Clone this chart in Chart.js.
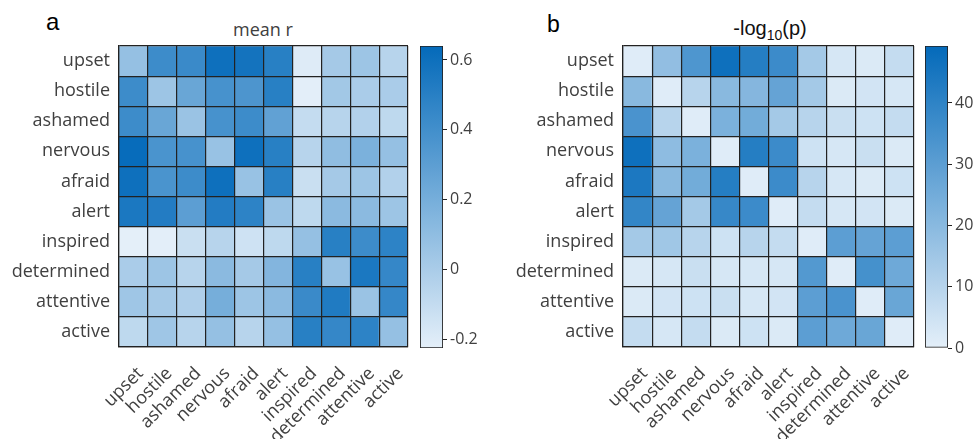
<!DOCTYPE html>
<html>
<head>
<meta charset="utf-8">
<script src="https://cdn.jsdelivr.net/npm/chart.js@4"></script>
<style>
  html, body { margin: 0; padding: 0; background: #fff; }
  body { width: 974px; height: 439px; position: relative; overflow: hidden; }
  .box { position: absolute; top: 0; height: 439px; }
  .label { position: absolute; font-family: "Liberation Sans", Arial, sans-serif; color: #000; line-height: 1; }
  .title { position: absolute; line-height: 1; white-space: nowrap; transform: translateX(-50%); }
</style>
</head>
<body>
<div class="label" style="left:46px; top:10px; font-size:24px;">a</div>
<div class="label" style="left:547px; top:13px; font-size:23px;">b</div>
<div class="title" style="left:263px; top:20px; font-family:'Open Sans', sans-serif; font-size:18px; color:#404040;">mean r</div>
<div class="title" style="left:770px; top:18px; font-family:'Liberation Sans', Arial, sans-serif; font-size:20px; color:#111;">-log<sub style="font-size:14px;">10</sub>(p)</div>

<div class="box" style="left:0; width:412px;"><canvas id="heatA"></canvas></div>
<div class="box" style="left:420px; width:60px;"><canvas id="barA"></canvas></div>
<div class="box" style="left:504px; width:414px;"><canvas id="heatB"></canvas></div>
<div class="box" style="left:925px; width:49px;"><canvas id="barB"></canvas></div>

<script>
// mood items, same order on both axes
const items = ['upset', 'hostile', 'ashamed', 'nervous', 'afraid', 'alert',
               'inspired', 'determined', 'attentive', 'active'];

// mean correlation between items (rows x columns)
const meanR = [
  [ 0.08,  0.42,  0.43,  0.60,  0.58,  0.50, -0.20,  0.02,  0.05, -0.05],
  [ 0.42,  0.05,  0.25,  0.38,  0.36,  0.50, -0.22,  0.03,  0.00,  0.00],
  [ 0.42,  0.25,  0.06,  0.38,  0.42,  0.28, -0.10, -0.05, -0.03, -0.08],
  [ 0.63,  0.37,  0.38,  0.07,  0.60,  0.50, -0.05,  0.10,  0.18,  0.08],
  [ 0.60,  0.37,  0.42,  0.60,  0.07,  0.50, -0.12,  0.02,  0.05, -0.03],
  [ 0.55,  0.52,  0.30,  0.52,  0.48,  0.06, -0.08,  0.12,  0.12,  0.05],
  [-0.23, -0.22, -0.12, -0.05, -0.14, -0.08,  0.08,  0.50,  0.42,  0.48],
  [ 0.00,  0.05, -0.05,  0.12,  0.02,  0.15,  0.50,  0.07,  0.55,  0.45],
  [ 0.04,  0.02, -0.02,  0.20,  0.05,  0.12,  0.43,  0.53,  0.06,  0.45],
  [-0.08,  0.04, -0.05,  0.08, -0.05,  0.08,  0.50,  0.45,  0.48,  0.08]
];

// -log10(p) of the same correlations
const negLogP = [
  [ 1, 18, 33, 47, 42, 37, 14,  3,  2,  7],
  [20,  1, 10, 20, 21, 28, 14,  2,  4,  3],
  [34, 10,  1, 23, 25, 14, 10,  6,  5,  7],
  [47, 19, 23,  1, 42, 37,  5,  3,  6,  2],
  [44, 20, 25, 42,  1, 37, 10,  3,  2,  5],
  [39, 28, 14, 38, 37,  1,  7,  3,  4,  2],
  [14, 15, 10,  5, 10,  7,  1, 30, 28, 30],
  [ 2,  3,  6,  3,  3,  3, 32,  1, 35, 26],
  [ 2,  4,  5,  6,  3,  4, 30, 34,  1, 27],
  [ 7,  3,  7,  2,  5,  2, 30, 26, 27,  1]
];

// colour limits and colorbar ticks
const rangeA = [-0.225, 0.64];
const ticksA = [-0.2, 0, 0.2, 0.4, 0.6];
const rangeB = [0, 49.3];
const ticksB = [0, 10, 20, 30, 40];

const LIGHT = [228, 239, 249];
const DARK = [4, 106, 186];
const TEXT = '#404040';
const LINE = '#222';
const FONT = "'Open Sans', sans-serif";

function colorAt(t) {
  t = Math.max(0, Math.min(1, t));
  const c = LIGHT.map((l, i) => Math.round(l + (DARK[i] - l) * t));
  return `rgb(${c[0]},${c[1]},${c[2]})`;
}

function mapColor(v, range) {
  return colorAt((v - range[0]) / (range[1] - range[0]));
}

Chart.defaults.animation = false;
Chart.defaults.events = [];
Chart.defaults.plugins.legend.display = false;
Chart.defaults.plugins.tooltip.enabled = false;
Chart.defaults.maintainAspectRatio = false;
Chart.defaults.font.family = FONT;

// one floating bar per cell, one dataset per row; grid drawn on top as cell edges
function heatmap(id, values, range) {
  const datasets = values.map((row, r) => ({
    data: row.map(() => [r, r + 1]),
    backgroundColor: row.map(v => mapColor(v, range)),
    borderWidth: 0,
    grouped: false,
    barPercentage: 1,
    categoryPercentage: 1,
    yAxisID: 'y'
  }));
  return new Chart(document.getElementById(id), {
    type: 'bar',
    data: { labels: items, datasets },
    options: {
      layout: { padding: { top: 46, right: 4, left: 0, bottom: 0 } },
      scales: {
        x: {
          type: 'category',
          offset: true,
          grid: { offset: true, color: LINE, lineWidth: 1.2, drawTicks: false, z: 1 },
          border: { display: true, color: LINE, width: 1.2, z: 1 },
          ticks: {
            autoSkip: false, minRotation: 45, maxRotation: 45,
            padding: 16, labelOffset: 7,
            color: TEXT, font: { size: 18 }
          },
          afterFit: s => { s.height = 92; s.paddingLeft = 0; s.paddingRight = 0; }
        },
        y: {
          type: 'linear',
          min: 0, max: 10,
          reverse: true,
          ticks: { display: false, stepSize: 1 },
          grid: { color: LINE, lineWidth: 1.2, drawTicks: false, z: 1 },
          border: { display: true, color: LINE, width: 1.2, z: 1 },
          afterFit: s => { s.width = 0; s.paddingTop = 0; s.paddingBottom = 0; }
        },
        rows: {
          type: 'category',
          labels: items,
          position: 'left',
          offset: true,
          grid: { display: false, drawTicks: false },
          border: { display: false },
          ticks: { padding: 9, color: TEXT, font: { size: 18 } },
          afterFit: s => { s.width = 119; s.paddingTop = 0; s.paddingBottom = 0; }
        }
      }
    }
  });
}

// vertical colorbar: a single floating bar filled with the colormap
function colorbar(id, range, ticks, axisWidth, fmt) {
  return new Chart(document.getElementById(id), {
    type: 'bar',
    data: {
      labels: [''],
      datasets: [{
        data: [range],
        backgroundColor: ctx => {
          const area = ctx.chart.chartArea;
          if (!area) return colorAt(0.5);
          const g = ctx.chart.ctx.createLinearGradient(0, area.bottom, 0, area.top);
          for (let i = 0; i <= 10; i++) g.addColorStop(i / 10, colorAt(i / 10));
          return g;
        },
        borderColor: LINE,
        borderWidth: 1.2,
        borderSkipped: false,
        barPercentage: 1,
        categoryPercentage: 1
      }]
    },
    options: {
      layout: { padding: { top: 46, bottom: 91, left: 0, right: 0 } },
      scales: {
        x: { display: false, offset: true },
        y: {
          type: 'linear',
          position: 'right',
          min: range[0], max: range[1],
          afterBuildTicks: s => { s.ticks = ticks.map(v => ({ value: v })); },
          ticks: { padding: 3, color: TEXT, font: { size: 16 }, callback: fmt },
          grid: { drawOnChartArea: false, tickLength: 4, color: LINE },
          border: { display: false },
          afterFit: s => { s.width = axisWidth; s.paddingTop = 0; s.paddingBottom = 0; }
        }
      }
    }
  });
}

heatmap('heatA', meanR, rangeA);
colorbar('barA', rangeA, ticksA, 37, v => String(Math.round(v * 10) / 10));
heatmap('heatB', negLogP, rangeB);
colorbar('barB', rangeB, ticksB, 26, v => String(v));
</script>
</body>
</html>
